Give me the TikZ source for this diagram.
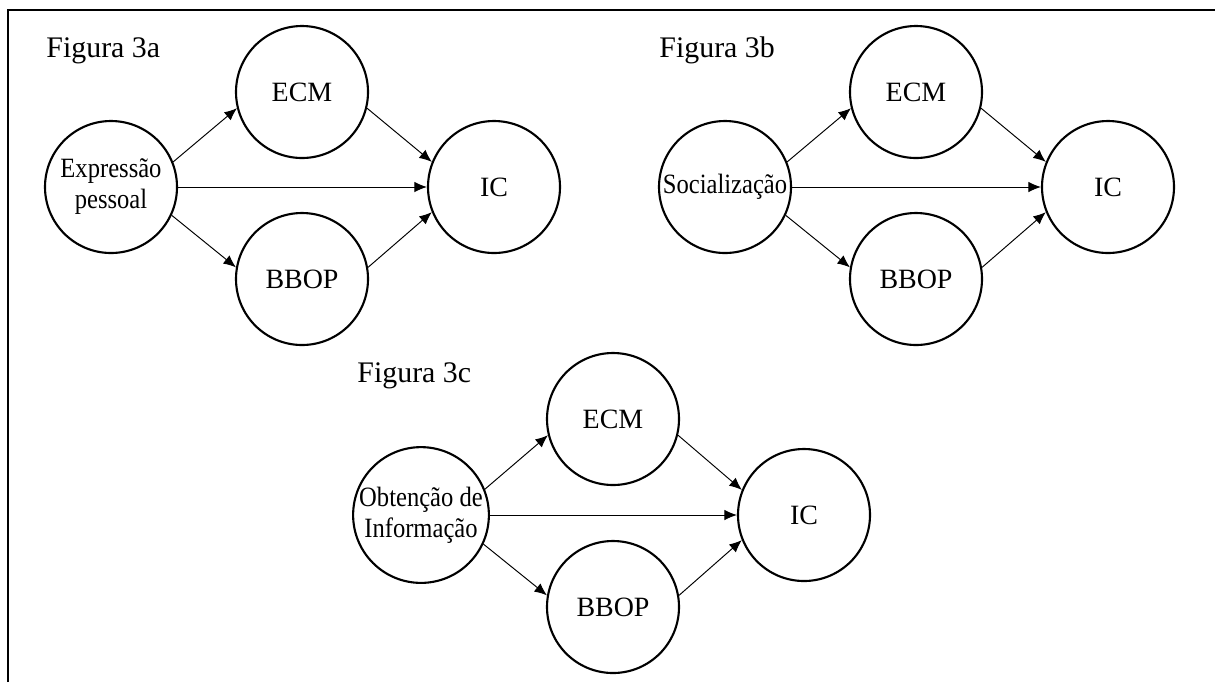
\documentclass[tikz,border=0pt]{standalone}
\usepackage{fontspec}
\setmainfont{Liberation Serif}
\newfontfamily\narrowfont[FakeStretch=0.88]{Liberation Serif}
\usetikzlibrary{positioning,arrows.meta}
\tikzset{main node/.style={circle,draw,line width=1.2pt,minimum size=2.64cm,inner sep=0pt,align=center,font=\fontsize{15.9}{17.6}\selectfont}}
\tikzset{cause node/.style={main node,font=\fontsize{15.9}{17.6}\narrowfont}}
\tikzset{fig label/.style={anchor=base west,inner sep=0pt,font=\fontsize{17}{19}\selectfont}}

\begin{document}
\begin{tikzpicture}[>={Latex[length=2.5mm,width=2.1mm]},on grid,line width=0.55pt]
      \useasboundingbox (0,0) rectangle (24.3,-13.64);
      \draw[line width=1pt] (0.16,-13.64) -- (0.16,-0.2) -- (24.3,-0.2);
      % Figura 3a
      \node[fig label] (fa) at (0.92,-1.14) {Figura 3a};
      \node[cause node] (a0) at (2.22,-3.74) {Expressão\\pessoal};
      \node[main node] (a1) [above right = 1.9cm and 3.82cm of a0] {ECM};
      \node[main node] (a2) [below right = 1.84cm and 3.82cm of a0] {BBOP};
      \node[main node] (a3) [right = 7.66cm of a0] {IC};
      \draw[->] (a0.22) -- (a1.194);
      \draw[->] (a0.east) -- (a3.west);
      \draw[->] (a0.-25) -- (a2.170);
      \draw[->] (a1.-14) -- (a3.158);
      \draw[->] (a2.10) -- (a3.202);
      % Figura 3b
      \node[fig label] (fb) at (13.18,-1.14) {Figura 3b};
      \node[cause node] (b0) at (14.5,-3.74) {Socialização};
      \node[main node] (b1) [above right = 1.9cm and 3.82cm of b0] {ECM};
      \node[main node] (b2) [below right = 1.84cm and 3.82cm of b0] {BBOP};
      \node[main node] (b3) [right = 7.66cm of b0] {IC};
      \draw[->] (b0.22) -- (b1.194);
      \draw[->] (b0.east) -- (b3.west);
      \draw[->] (b0.-25) -- (b2.170);
      \draw[->] (b1.-14) -- (b3.158);
      \draw[->] (b2.10) -- (b3.202);
      % Figura 3c
      \node[fig label] (fc) at (7.14,-7.64) {Figura 3c};
      \node[cause node] (c0) at (8.42,-10.3) {Obtenção de\\Informação};
      \node[main node] (c1) [above right = 1.92cm and 3.84cm of c0] {ECM};
      \node[main node] (c2) [below right = 1.84cm and 3.84cm of c0] {BBOP};
      \node[main node] (c3) [right = 7.66cm of c0] {IC};
      \draw[->] (c0.22) -- (c1.194);
      \draw[->] (c0.east) -- (c3.west);
      \draw[->] (c0.-25) -- (c2.170);
      \draw[->] (c1.-14) -- (c3.158);
      \draw[->] (c2.10) -- (c3.202);
    \end{tikzpicture}
\end{document}
